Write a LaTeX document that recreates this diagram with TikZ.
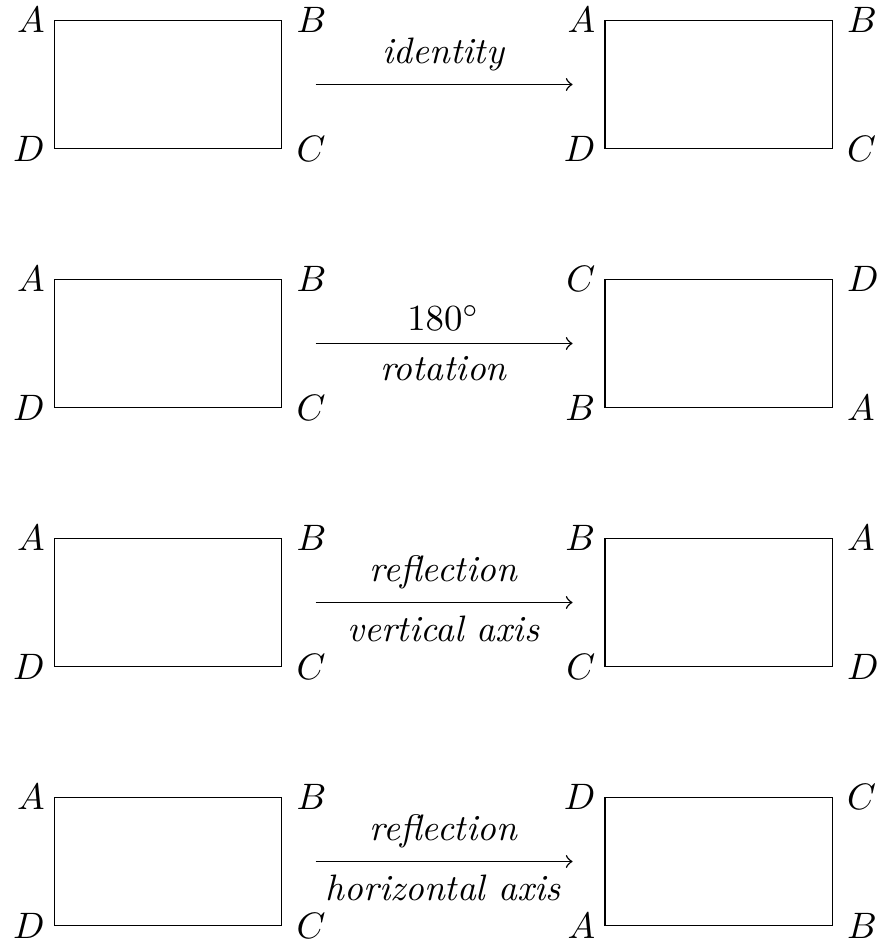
\documentclass[tikz,border=0pt]{standalone}
\usetikzlibrary{positioning}
\tikzset{
  rect/.style={draw, line width=0.4pt, minimum width=61.8pt, minimum height=34.67pt, inner sep=0pt},
  lcorner/.style={inner sep=3.333pt, left, xshift=1.1pt},
  rcorner/.style={inner sep=3.333pt, right, xshift=0.3pt},
  maparrow/.style={->, line width=0.4pt, shorten <=9pt, shorten >=8.6pt},
  lab/.style={font=\itshape}
}
\begin{document}
\begin{tikzpicture}[x=0.27174pt, y=-0.27174pt]
\useasboundingbox (0,0) rectangle (878,944);
% row 1
\node[rect] (L1) at (168,84.5) {};
\node[rect] (R1) at (718.65,84.5) {};
\node[lcorner] (L1a) at (L1.north west) {$A$};
\node[rcorner] (L1b) at (L1.north east) {$B$};
\node[rcorner] (L1c) at (L1.south east) {$C$};
\node[lcorner] (L1d) at (L1.south west) {$D$};
\node[lcorner] (R1a) at (R1.north west) {$A$};
\node[rcorner] (R1b) at (R1.north east) {$B$};
\node[rcorner] (R1c) at (R1.south east) {$C$};
\node[lcorner] (R1d) at (R1.south west) {$D$};
\draw[maparrow] (L1.east) -- node[above, lab] (T1) {identity} (R1.west);
% row 2
\node[rect] (L2) at (168,343.5) {};
\node[rect] (R2) at (718.65,343.5) {};
\node[lcorner] (L2a) at (L2.north west) {$A$};
\node[rcorner] (L2b) at (L2.north east) {$B$};
\node[rcorner] (L2c) at (L2.south east) {$C$};
\node[lcorner] (L2d) at (L2.south west) {$D$};
\node[lcorner] (R2a) at (R2.north west) {$C$};
\node[rcorner] (R2b) at (R2.north east) {$D$};
\node[rcorner] (R2c) at (R2.south east) {$A$};
\node[lcorner] (R2d) at (R2.south west) {$B$};
\draw[maparrow] (L2.east) -- node[above] (T2) {$180^\circ$} node[below, lab] (U2) {rotation} (R2.west);
% row 3
\node[rect] (L3) at (168,602.5) {};
\node[rect] (R3) at (718.65,602.5) {};
\node[lcorner] (L3a) at (L3.north west) {$A$};
\node[rcorner] (L3b) at (L3.north east) {$B$};
\node[rcorner] (L3c) at (L3.south east) {$C$};
\node[lcorner] (L3d) at (L3.south west) {$D$};
\node[lcorner] (R3a) at (R3.north west) {$B$};
\node[rcorner] (R3b) at (R3.north east) {$A$};
\node[rcorner] (R3c) at (R3.south east) {$D$};
\node[lcorner] (R3d) at (R3.south west) {$C$};
\draw[maparrow] (L3.east) -- node[above, lab] (T3) {reflection} node[below, lab] (U3) {vertical axis} (R3.west);
% row 4
\node[rect] (L4) at (168,861.5) {};
\node[rect] (R4) at (718.65,861.5) {};
\node[lcorner] (L4a) at (L4.north west) {$A$};
\node[rcorner] (L4b) at (L4.north east) {$B$};
\node[rcorner] (L4c) at (L4.south east) {$C$};
\node[lcorner] (L4d) at (L4.south west) {$D$};
\node[lcorner] (R4a) at (R4.north west) {$D$};
\node[rcorner] (R4b) at (R4.north east) {$C$};
\node[rcorner] (R4c) at (R4.south east) {$B$};
\node[lcorner] (R4d) at (R4.south west) {$A$};
\draw[maparrow] (L4.east) -- node[above, lab] (T4) {reflection} node[below, lab] (U4) {horizontal axis} (R4.west);
\end{tikzpicture}
\end{document}
